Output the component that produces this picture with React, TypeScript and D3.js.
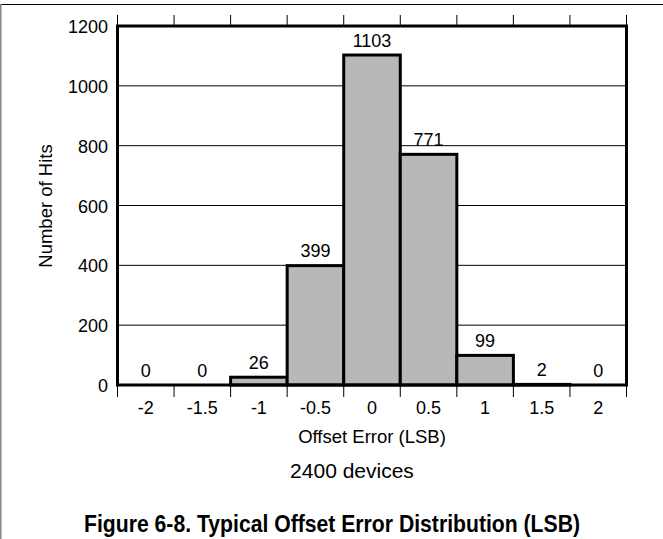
import React from "react";
import * as d3 from "d3";

const binLabels = ["-2", "-1.5", "-1", "-0.5", "0", "0.5", "1", "1.5", "2"];
const hits = [0, 0, 26, 399, 1103, 771, 99, 2, 0];
const yTicks = [0, 200, 400, 600, 800, 1000, 1200];

export default function App() {
  const W = 663, H = 539;
  const left = 117.5, right = 626.5, top = 26, bottom = 385;
  const x = d3.scaleBand<string>().domain(binLabels).range([left, right]).padding(0);
  const y = d3.scaleLinear().domain([0, 1200]).range([bottom, top]);
  const edges = binLabels.map((b) => x(b) as number).concat([right]);
  const font = "Arial, 'Liberation Sans', sans-serif";
  return (
    <svg width={W} height={H} style={{ position: "absolute", left: 0, top: 0, background: "#fff" }} fontFamily={font}>
      <line x1={0} x2={W} y1={4.5} y2={4.5} stroke="#000" strokeWidth={1.2} />
      <line x1={0.75} x2={0.75} y1={4} y2={H} stroke="#888" strokeWidth={1.5} />
      {yTicks.filter((t) => t > 0 && t < 1200).map((t) => (
        <line key={t} x1={left} x2={right} y1={y(t)} y2={y(t)} stroke="#000" strokeWidth={1} />
      ))}
      {binLabels.map((b, i) => (
        <rect key={b} x={x(b)} y={y(hits[i])} width={x.bandwidth()} height={bottom - y(hits[i])}
          fill="#b8b8b8" stroke="#000" strokeWidth={3} />
      ))}
      <rect x={left} y={top} width={right - left} height={bottom - top} fill="none" stroke="#000" strokeWidth={3} />
      {edges.map((e, i) => (
        <g key={i}>
          <line x1={e} x2={e} y1={top} y2={15} stroke="#000" strokeWidth={1} />
          <line x1={e} x2={e} y1={bottom} y2={397} stroke="#000" strokeWidth={1} />
        </g>
      ))}
      {binLabels.map((b) => (
        <text key={b} x={(x(b) as number) + x.bandwidth() / 2} y={414} textAnchor="middle" fontSize={18} fill="#000">{b}</text>
      ))}
      {binLabels.map((b, i) => (
        <text key={b} x={(x(b) as number) + x.bandwidth() / 2} y={y(hits[i]) - 8.3} textAnchor="middle" fontSize={18} fill="#000">{hits[i]}</text>
      ))}
      {yTicks.map((t) => (
        <text key={t} x={108} y={y(t) + 7} textAnchor="end" fontSize={18} fill="#000">{t}</text>
      ))}
      <text transform={`translate(52,206) rotate(-90)`} textAnchor="middle" fontSize={18.5} fill="#000">Number of Hits</text>
      <text x={372} y={442.5} textAnchor="middle" fontSize={18.5} fill="#000">Offset Error (LSB)</text>
      <text x={352} y={478} textAnchor="middle" fontSize={21} fill="#000">2400 devices</text>
      <text x={332} y={531.5} textAnchor="middle" fontSize={24} fontWeight="bold" fill="#000"
        textLength={496} lengthAdjust="spacingAndGlyphs">Figure 6-8. Typical Offset Error Distribution (LSB)</text>
    </svg>
  );
}
